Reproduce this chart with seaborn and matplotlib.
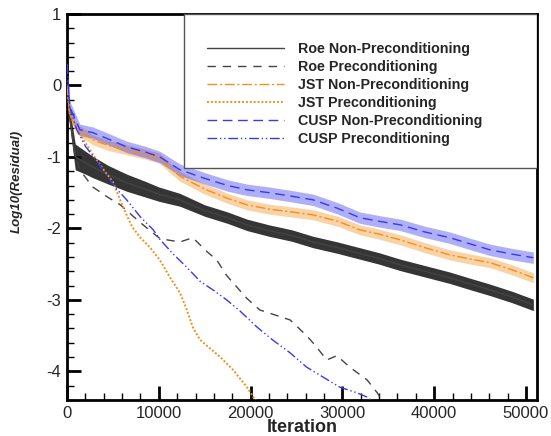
import numpy as np
import pandas as pd
import matplotlib
matplotlib.use("Agg")
import matplotlib.pyplot as plt
from matplotlib.patches import Rectangle
import seaborn as sns

# ---------------- data ----------------
roe_np_it = [0, 300, 900, 2000, 2800, 4500, 6500, 8500, 10000, 12300, 15000, 17500,
             19600, 22000, 24500, 26800, 29500, 31900, 34000, 36300, 39000, 41700,
             44000, 46100, 48500, 50800]
roe_np_val = [0.0, -0.45, -1.0, -1.08, -1.14, -1.25, -1.36, -1.45, -1.52, -1.6, -1.75, -1.85,
              -1.95, -2.03, -2.1, -2.19, -2.27, -2.35, -2.42, -2.51, -2.6, -2.69,
              -2.78, -2.86, -2.96, -3.07]
roe_np_half = [0.05, 0.12, 0.18, 0.16, 0.15, 0.13, 0.12, 0.11, 0.1, 0.09, 0.08, 0.08,
               0.08, 0.08, 0.08, 0.08, 0.08, 0.08, 0.08, 0.08, 0.08, 0.08,
               0.08, 0.08, 0.08, 0.08]

roe_p_it = [0, 300, 900, 1500, 2800, 4400, 5800, 8000, 10100, 10900, 12300, 13700, 15300,
            16300, 17400, 19600, 21000, 22400, 24300, 26100, 27000, 28300, 29400, 30800,
            32700, 33800, 34400]
roe_p_val = [0.0, -0.45, -1.0, -1.2, -1.42, -1.56, -1.67, -1.92, -2.14, -2.16, -2.19, -2.13,
             -2.33, -2.44, -2.66, -2.98, -3.14, -3.2, -3.28, -3.5, -3.63, -3.84, -3.78, -3.94,
             -4.12, -4.3, -4.42]

jst_np_it = [0, 300, 1000, 2800, 4500, 6500, 8500, 10100, 11200, 12300, 15000, 17500,
             19600, 22000, 24500, 26800, 29500, 31900, 34000, 36300, 39000, 41700,
             44000, 46100, 48500, 50800]
jst_np_val = [0.0, -0.4, -0.6, -0.76, -0.84, -0.9, -0.96, -1.02, -1.15, -1.27, -1.45, -1.58,
              -1.67, -1.73, -1.77, -1.81, -1.9, -2.02, -2.08, -2.16, -2.27, -2.37,
              -2.43, -2.48, -2.58, -2.69]
jst_np_half = [0.04, 0.06, 0.07, 0.07, 0.07, 0.07, 0.07, 0.07, 0.07, 0.07, 0.07, 0.07,
               0.07, 0.07, 0.07, 0.07, 0.07, 0.07, 0.07, 0.07, 0.07, 0.07,
               0.07, 0.07, 0.07, 0.07]

jst_p_it = [0, 300, 1000, 2000, 3000, 4000, 5000, 6100, 7100, 8000, 9000, 10100, 11200,
            12300, 13000, 13700, 14500, 16700, 18100, 19600, 20300, 20800]
jst_p_val = [0.0, -0.4, -0.6, -0.8, -1.0, -1.18, -1.35, -1.7, -1.98, -2.13, -2.26, -2.44,
             -2.68, -2.9, -3.12, -3.38, -3.56, -3.8, -3.98, -4.22, -4.36, -4.45]

cusp_np_it = [0, 300, 1400, 2800, 4500, 6500, 8500, 10100, 12300, 15000, 17500, 19600,
              22000, 24500, 26800, 29500, 31900, 34000, 36300, 39000, 41700, 44000,
              46100, 48500, 50800]
cusp_np_val = [0.3, -0.3, -0.62, -0.66, -0.75, -0.86, -0.93, -1.0, -1.18, -1.3, -1.4, -1.46,
               -1.5, -1.55, -1.6, -1.72, -1.85, -1.9, -1.95, -2.05, -2.13, -2.22,
               -2.3, -2.36, -2.41]
cusp_np_half = [0.05, 0.08, 0.08, 0.08, 0.08, 0.08, 0.08, 0.08, 0.08, 0.08, 0.08, 0.08,
                0.08, 0.08, 0.08, 0.08, 0.08, 0.08, 0.08, 0.08, 0.08, 0.08,
                0.08, 0.08, 0.08]

cusp_p_it = [0, 300, 1000, 2000, 3500, 5200, 6500, 8000, 9400, 10100, 11500, 13100, 14500,
             15900, 17400, 18800, 20700, 22400, 24300, 26100, 27900, 29700, 31600, 32700,
             33300]
cusp_p_val = [0.3, -0.3, -0.6, -0.85, -1.1, -1.42, -1.6, -1.84, -2.02, -2.15, -2.35, -2.55,
              -2.74, -2.86, -3.0, -3.15, -3.38, -3.56, -3.74, -3.94, -4.08, -4.22, -4.3,
              -4.36, -4.42]

labels = ["Roe Non-Preconditioning", "Roe Preconditioning", "JST Non-Preconditioning",
          "JST Preconditioning", "CUSP Non-Preconditioning", "CUSP Preconditioning"]

x_ticks = [0, 10000, 20000, 30000, 40000, 50000]
y_ticks = [-4, -3, -2, -1, 0, 1]

# ---------------- style ----------------
sns.set_theme(style="ticks")
plt.rcParams["font.family"] = ["Liberation Sans", "DejaVu Sans"]
plt.rcParams["axes.unicode_minus"] = False

BLACK = "#111111"
GRAY = "#444444"
ORANGE = "#F0901E"
BLUE = "#3838F0"

fig = plt.figure(figsize=(5.51, 4.36), dpi=100)
ax = fig.add_axes([0.1216, 0.0826, 0.853, 0.8854])

# bands for the oscillating (non-preconditioned) runs
def band(it, val, half, color, alpha):
    v = np.array(val)
    h = np.array(half)
    ax.fill_between(it, v - h, v + h, color=color, alpha=alpha, lw=0, zorder=2)

band(roe_np_it, roe_np_val, roe_np_half, BLACK, 0.85)
band(jst_np_it, jst_np_val, jst_np_half, ORANGE, 0.4)
band(cusp_np_it, cusp_np_val, cusp_np_half, BLUE, 0.4)

series = [
    (roe_np_it, roe_np_val, labels[0], GRAY, "-", 1.0),
    (roe_p_it, roe_p_val, labels[1], GRAY, (0, (6, 5)), 1.0),
    (jst_np_it, jst_np_val, labels[2], ORANGE, (0, (7, 2, 1.5, 2)), 1.0),
    (jst_p_it, jst_p_val, labels[3], ORANGE, (0, (1, 1)), 1.4),
    (cusp_np_it, cusp_np_val, labels[4], BLUE, (0, (7, 4)), 1.0),
    (cusp_p_it, cusp_p_val, labels[5], BLUE, (0, (7, 2, 1, 2, 1, 2)), 1.0),
]
for it, val, lab, col, ls, lw in series:
    df = pd.DataFrame({"Iteration": it, "res": val})
    sns.lineplot(data=df, x="Iteration", y="res", ax=ax, color=col, linestyle=ls,
                 linewidth=lw, label=lab, zorder=3, legend=False)

ax.set_xlim(0, 51200)
ax.set_ylim(-4.4, 1.0)
ax.set_xticks(x_ticks)
ax.set_yticks(y_ticks)
ax.set_xticks(np.arange(0, 51000, 2000), minor=True)
ax.set_yticks(np.arange(-4.4, 1.01, 0.2), minor=True)
ax.tick_params(which="major", direction="in", length=10, width=2, labelsize=12, color="black",
               top=False, right=False, pad=4)
ax.tick_params(which="minor", direction="in", length=5, width=1, color="black",
               top=False, right=False)
for s in ax.spines.values():
    s.set_linewidth(2)
    s.set_color("black")
ax.set_xlabel("Iteration", fontsize=13, fontweight="bold", labelpad=-1)
ax.set_ylabel("Log10(Residual)", fontsize=9.5, fontweight="bold", style="italic")
ax.yaxis.set_label_coords(-0.094, 0.567)

# legend box
ax.add_patch(Rectangle((0.249, 0.601), 0.751, 0.399, transform=ax.transAxes,
                       facecolor="white", edgecolor="#555555", lw=1.0, zorder=4))
handles, labs = ax.get_legend_handles_labels()
leg = ax.legend(handles, labs, loc="center", bbox_to_anchor=(0.59, 0.793), frameon=False,
                prop={"weight": "bold", "size": 10.3}, handlelength=5.4, handletextpad=0.95,
                labelspacing=0.28, borderpad=0)
leg.set_zorder(5)

fig.savefig("out.png", dpi=100)
